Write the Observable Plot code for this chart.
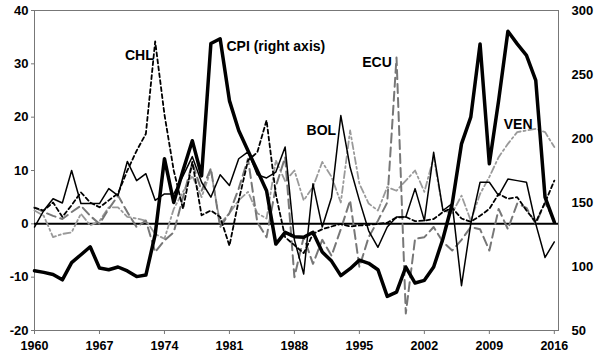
<!DOCTYPE html>
<html><head><meta charset="utf-8">
<script src="https://cdn.jsdelivr.net/npm/d3@7"></script>
<script src="https://cdn.jsdelivr.net/npm/@observablehq/plot@0.6"></script>
<style>body{margin:0;background:#fff} #chart svg{display:block}</style>
</head><body><div id="chart"></div>
<script>
const years = [1960,1961,1962,1963,1964,1965,1966,1967,1968,1969,
  1970,1971,1972,1973,1974,1975,1976,1977,1978,1979,
  1980,1981,1982,1983,1984,1985,1986,1987,1988,1989,
  1990,1991,1992,1993,1994,1995,1996,1997,1998,1999,
  2000,2001,2002,2003,2004,2005,2006,2007,2008,2009,
  2010,2011,2012,2013,2014,2015,2016];

// CPI, right axis units
const cpi = [96.7,95.4,93.8,89.6,103.0,109.2,115.4,98.8,97.5,99.6,
  96.5,92.1,93.3,125.0,184.2,150.0,175.0,198.3,170.8,274.2,
  277.9,229.6,206.3,190.4,175.0,159.2,117.5,126.7,123.3,122.9,
  126.7,111.3,104.2,92.9,98.3,105.0,102.5,97.5,76.7,80.0,
  99.6,87.1,89.2,99.6,121.7,149.0,195.8,216.7,273.9,180.2,
  229.6,283.8,273.9,265.0,245.4,154.2,134.6];

// left axis series
const chl = [3.0,2.5,4.0,1.3,3.5,5.9,4.0,3.1,4.4,5.7,
  10.0,13.7,16.9,34.2,20.5,10.0,2.8,11.6,1.6,2.5,
  1.3,-4.1,4.4,11.9,13.4,19.4,5.5,-2.5,-4.0,-5.5,
  -1.9,-1.0,-0.5,0.0,-0.5,-0.3,-0.2,0.0,0.2,1.2,
  1.3,0.5,0.6,0.9,2.2,3.0,1.0,0.4,1.5,2.8,
  5.6,4.7,5.0,2.5,0.3,4.0,8.1];
const bol = [-0.6,2.5,4.7,3.9,10.0,3.8,3.8,3.8,6.6,5.3,
  11.7,8.1,9.4,4.4,5.6,5.6,9.0,12.6,7.8,5.0,
  9.2,7.2,12.2,13.5,9.2,8.6,9.7,14.4,-3.0,-9.4,
  7.5,-0.6,5.0,20.3,10.6,4.4,-1.3,-4.4,-0.6,1.3,
  1.3,6.6,0.6,13.4,2.5,3.8,-11.6,0.0,7.8,7.8,
  5.3,8.4,8.1,7.8,0.0,-6.3,-3.4];
const ecu = [3.1,2.2,1.5,0.9,2.2,3.4,1.5,0.0,2.8,5.3,
  2.2,-0.6,0.6,-5.3,-3.1,-1.6,5.0,11.4,6.2,10.4,
  -0.6,2.0,6.6,12.2,0.3,-2.5,7.0,12.5,-10.0,-2.5,
  -7.5,-3.0,-6.0,-1.0,4.4,-8.1,-2.5,0.6,4.0,31.2,
  -16.8,-2.8,-2.5,-0.6,-3.4,-5.0,-3.0,-0.6,-1.0,-5.0,
  2.8,-1.0,3.8,3.0,0.0,4.0,0.6];
const ven = [2.5,1.5,-2.5,-1.9,-1.6,1.9,-0.3,0.5,3.1,3.1,
  1.3,1.0,0.6,-1.9,-2.8,2.8,6.0,9.0,5.0,10.0,
  0.0,2.0,4.4,6.0,2.0,1.0,11.9,8.0,10.0,4.4,
  6.9,11.6,8.8,4.0,17.5,7.5,3.8,2.5,6.9,6.2,
  8.1,10.0,6.0,12.5,2.5,2.0,5.3,0.6,5.6,8.8,
  12.5,15.0,17.2,17.5,17.8,17.2,14.4];

const leftTicks = [-20,-10,0,10,20,30,40];
const rightTicks = [50,100,150,200,250,300];
const xTicks = [1960,1967,1974,1981,1988,1995,2002,2009,2016];

const labelNames = ["CHL","CPI (right axis)","ECU","BOL","VEN"];
const labelYears = [1971.3,1986.0,1996.9,1990.9,2012.1];
const labelValues = [31.6,33.2,30.2,17.5,18.7];

// map the right axis (CPI) into the left axis domain
const cpiToLeft = c => -20 + (c - 50) * 60 / 250;
const leftToCpi = v => 50 + (v + 20) * 250 / 60;

const rows = s => years.map((y, i) => ({year: y, value: s[i]}));
const labels = labelNames.map((n, i) => ({name: n, year: labelYears[i], value: labelValues[i]}));

const chart = Plot.plot({
  width: 600, height: 360,
  marginLeft: 34, marginRight: 42, marginTop: 10, marginBottom: 30,
  style: {fontFamily: "'Liberation Sans', Arial, sans-serif", fontWeight: "bold", background: "#fff", color: "#000"},
  x: {domain: [1960, 2016.45], axis: null},
  y: {domain: [-20, 40], axis: null},
  marks: [
    Plot.frame({stroke: "#777"}),
    Plot.axisY(leftTicks, {anchor: "left", label: null, tickSize: 3, tickPadding: 3, fontSize: 13, fontWeight: "bold", stroke: "#777", color: "#000", tickFormat: d => String(d)}),
    Plot.axisY(rightTicks.map(cpiToLeft), {anchor: "right", label: null, tickSize: 0, tickPadding: 13, fontSize: 13, fontWeight: "bold", color: "#000", tickFormat: d => String(Math.round(leftToCpi(d)))}),
    Plot.axisX(xTicks, {anchor: "bottom", label: null, tickSize: 4, tickPadding: 7, fontSize: 12.5, fontWeight: "bold", stroke: "#777", color: "#000", tickFormat: d => String(d)}),
    Plot.ruleY([0], {stroke: "#000", strokeWidth: 2}),
    Plot.line(rows(ven), {x: "year", y: "value", stroke: "#9a9a9a", strokeWidth: 1.8, strokeDasharray: "7,3,2,3"}),
    Plot.line(rows(ecu), {x: "year", y: "value", stroke: "#777", strokeWidth: 2, strokeDasharray: "9,5"}),
    Plot.line(rows(bol), {x: "year", y: "value", stroke: "#000", strokeWidth: 1.5}),
    Plot.line(rows(chl), {x: "year", y: "value", stroke: "#000", strokeWidth: 1.8, strokeDasharray: "4,3"}),
    Plot.line(rows(cpi), {x: "year", y: d => cpiToLeft(d.value), stroke: "#000", strokeWidth: 3.5}),
    Plot.text(labels, {x: "year", y: "value", text: "name", fontSize: 14, fontWeight: "bold", fill: "#000"})
  ]
});
document.getElementById("chart").appendChild(chart);
</script>
</body></html>
